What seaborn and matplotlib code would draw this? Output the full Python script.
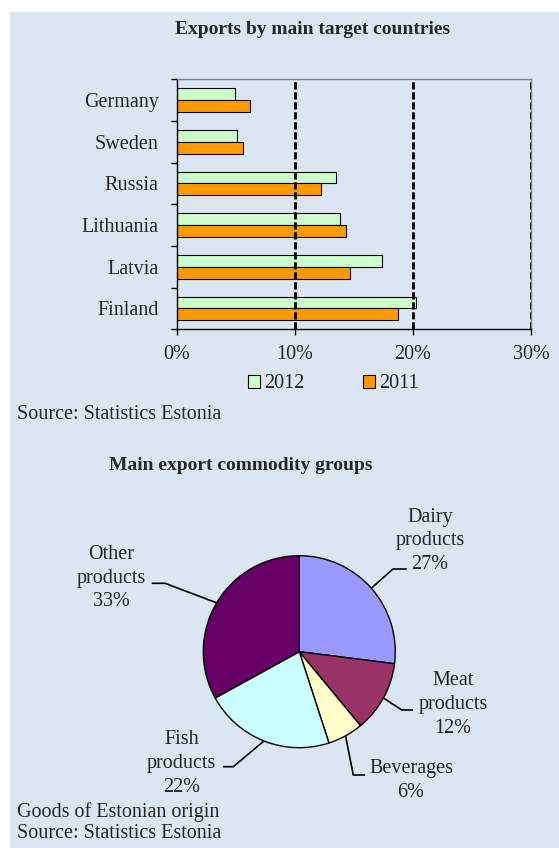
import numpy as np
import pandas as pd
import matplotlib
matplotlib.use("Agg")
import matplotlib.pyplot as plt
import seaborn as sns
from matplotlib.patches import Rectangle

# ---- data -------------------------------------------------------------
countries = ["Germany", "Sweden", "Russia", "Lithuania", "Latvia", "Finland"]
share_2012 = [4.9, 5.1, 13.5, 13.8, 17.4, 20.3]
share_2011 = [6.2, 5.6, 12.2, 14.3, 14.7, 18.7]
years = ["2012", "2011"]
x_ticks = [0, 10, 20, 30]
x_tick_labels = ["0%", "10%", "20%", "30%"]

groups = ["Dairy\nproducts\n27%", "Meat\nproducts\n12%", "Beverages\n6%",
          "Fish\nproducts\n22%", "Other\nproducts\n33%"]
group_shares = [27, 12, 6, 22, 33]

# ---- style ------------------------------------------------------------
sns.set_style("white")
plt.rcParams["font.family"] = ["Liberation Serif", "DejaVu Serif"]
BG = "#dce6f2"
W, H = 559, 848
FS = 14.5
FS_TITLE = 14

fig = plt.figure(figsize=(W / 100, H / 100), dpi=100, facecolor="white")
fig.patches.append(Rectangle((10 / W, 0), 1 - 10 / W, 1 - 12 / H,
                             transform=fig.transFigure, facecolor=BG,
                             edgecolor="none", zorder=-10))


def fx(px):
    return px / W


def fy(py):
    return 1 - py / H


# ---- bar chart: exports by target country -----------------------------
df = pd.DataFrame({
    "country": countries * 2,
    "share": share_2012 + share_2011,
    "year": [years[0]] * len(countries) + [years[1]] * len(countries),
})

ax1 = fig.add_axes([fx(176.7), fy(329.3), fx(531 - 176.7), (329.3 - 79.3) / H])
ax1.set_facecolor("none")
sns.barplot(data=df, x="share", y="country", hue="year", hue_order=years,
            palette={"2012": "#ccffcc", "2011": "#ff9900"}, orient="h",
            width=0.57, gap=0, saturation=1, edgecolor="black",
            linewidth=0.8, ax=ax1)

handles, labels = ax1.get_legend_handles_labels()
ax1.get_legend().remove()

ax1.set_xlim(0, 30)
ax1.set_ylim(len(countries) - 0.5, -0.5)
for xv in x_ticks[1:]:
    ax1.axvline(xv, color="black", lw=2, ls=(0, (2.6, 1.0)), zorder=3)

ax1.set_xticks(x_ticks)
ax1.set_xticklabels(x_tick_labels, fontsize=FS)
ax1.set_yticks(range(len(countries)))
ax1.set_yticklabels(countries, fontsize=FS)
ax1.set_yticks(np.arange(-0.5, len(countries), 1), minor=True)
ax1.tick_params(axis="y", which="major", length=0, pad=13)
ax1.tick_params(axis="y", which="minor", length=4, width=1, direction="out",
                color="black", left=True)
ax1.tick_params(axis="x", which="major", length=4, width=1, direction="out",
                color="black", bottom=True, pad=7)
ax1.set_xlabel("")
ax1.set_ylabel("")
for side in ("left", "bottom"):
    ax1.spines[side].set_color("black")
    ax1.spines[side].set_linewidth(1)
for side in ("top", "right"):
    ax1.spines[side].set_color("#808080")
    ax1.spines[side].set_linewidth(1)

fig.legend(handles, labels, loc="center", bbox_to_anchor=(fx(333), fy(384)),
           ncol=2, frameon=False, fontsize=FS, handlelength=0.6,
           handleheight=0.6, handletextpad=0.2, columnspacing=2.9)

fig.text(fx(313), fy(29), "Exports by main target countries", ha="center",
         va="center", fontsize=FS_TITLE, fontweight="bold")
fig.text(fx(17), fy(415), "Source: Statistics Estonia", ha="left",
         va="center", fontsize=FS)

# ---- pie chart: commodity groups --------------------------------------
R = 96.0
cx, cy = 299.3, 651.7
ax2 = fig.add_axes([fx(cx - R), fy(cy + R), 2 * R / W, 2 * R / H])
ax2.set_facecolor("none")
pie_colors = ["#9999ff", "#993366", "#ffffcc", "#ccffff", "#660066"]
ax2.pie(group_shares, colors=pie_colors, startangle=90, counterclock=False,
        radius=1, wedgeprops=dict(edgecolor="black", linewidth=1))
ax2.set_xlim(-1, 1)
ax2.set_ylim(-1, 1)
ax2.set_aspect("equal")
ax2.axis("off")


def d(px, py):
    return (px - cx) / R, (cy - py) / R


# label layout: elbow point, end of leader, text centre (pixel space)
layout = [
    ((393, 569), (406.7, 569), (430, 541)),
    ((401.7, 710), (413, 710), (453, 704.5)),
    ((353.3, 775), (365, 775), (411, 780.5)),
    ((233.3, 766.7), (223, 766.7), (181.7, 763.5)),
    ((165, 583.3), (151.7, 583.3), (111, 578)),
]
cum = np.cumsum(group_shares)
mid_angles = np.deg2rad(90 - 3.6 * (cum - np.array(group_shares) / 2))
for ang, label, (elbow, end, txt) in zip(mid_angles, groups, layout):
    sx, sy = np.cos(ang), np.sin(ang)
    ex, ey = d(*elbow)
    tx, ty = d(*end)
    ax2.plot([sx, ex, tx], [sy, ey, ey], color="black", lw=1.2,
             clip_on=False, solid_capstyle="butt")
    lx, ly = d(*txt)
    ax2.text(lx, ly, label, ha="center", va="center", fontsize=FS,
             linespacing=1.33, clip_on=False)

fig.text(fx(241), fy(466), "Main export commodity groups", ha="center",
         va="center", fontsize=FS_TITLE, fontweight="bold")
fig.text(fx(17), fy(812), "Goods of Estonian origin", ha="left",
         va="center", fontsize=FS)
fig.text(fx(17), fy(834), "Source: Statistics Estonia", ha="left",
         va="center", fontsize=FS)

fig.savefig("out.png", dpi=100, facecolor="white")
